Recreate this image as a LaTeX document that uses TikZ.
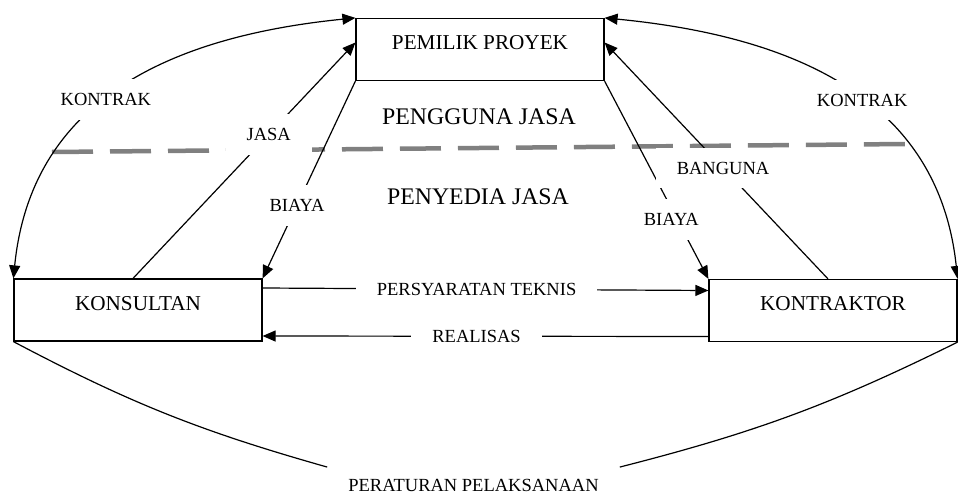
\documentclass[tikz,border=0pt]{standalone}
\usepackage{fontspec}
\setmainfont{Liberation Serif}
\usetikzlibrary{arrows.meta}

\begin{document}
\begin{tikzpicture}[x=1pt, y=-1pt, every text node part/.style={align=center}]

\tikzstyle{box}=[draw, line width=1.2pt, minimum width=248pt, minimum height=62pt, text height=14pt, text depth=14pt, font=\fontsize{21.2}{24}\selectfont]
\tikzstyle{lbl}=[fill=white, inner xsep=21pt, inner ysep=14pt, text height=12.5pt, text depth=0pt, font=\fontsize{18.5}{20}\selectfont]
\tikzstyle{arr}=[draw, line width=1.2pt, -{Triangle[length=13pt, width=11pt]}]
\tikzstyle{darr}=[draw, line width=1.2pt, {Triangle[length=13pt, width=11pt]}-{Triangle[length=13pt, width=11pt]}]
\tikzstyle{side}=[font=\fontsize{23.8}{26}\selectfont]

\useasboundingbox (0, 0) rectangle (958, 495);

% garis batas pengguna / penyedia
\coordinate (batasL) at (52, 152);
\coordinate (batasR) at (906, 144);
\path [draw, gray, line width=4.5pt, dash pattern=on 41pt off 17pt] (batasL) -- (batasR);

\node (pemilik)    [box]  at (480, 49.5)  {PEMILIK PROYEK};
\node (konsultan)  [box]  at (138, 310)   {KONSULTAN};
\node (kontraktor) [box]  at (833, 310.5) {KONTRAKTOR};
\node (pengguna)   [side] at (479, 117)   {PENGGUNA JASA};
\node (penyedia)   [side] at (478, 197)   {PENYEDIA JASA};
\node (peraturan)  [lbl, inner ysep=1pt] at (473.5, 485.5) {PERATURAN PELAKSANAAN};

\path [darr] (pemilik.north west)
    .. controls +(-199, 20) and +(17, -170) ..
    node [lbl, pos=0.53] (kontrak1) {KONTRAK} (konsultan.north west);
\path [darr] (pemilik.north east)
    .. controls +(206, 20) and +(-18, -170) ..
    node [lbl, pos=0.53] (kontrak2) {KONTRAK} (kontraktor.north east);
\path [arr] ([xshift=-5pt]konsultan.north)  -- node [lbl, pos=0.61] (jasa) {JASA} ([yshift=7pt]pemilik.west);
\path [arr] (pemilik.south west) -- node [lbl, pos=0.63] (biaya1) {BIAYA} (konsultan.north east);
\path [arr] (pemilik.south east) -- node [lbl, pos=0.70, xshift=-6pt] (biaya2) {BIAYA} (kontraktor.north west);
\path [arr] ([xshift=-5pt]kontraktor.north) -- node [lbl, pos=0.47] (bangun) {BANGUNA} ([yshift=7pt]pemilik.east);
\path [arr] ([yshift=22pt]konsultan.east)   -- node [lbl, pos=0.48] (syarat) {PERSYARATAN TEKNIS} ([yshift=20pt]kontraktor.west);
\path [arr] ([yshift=-26pt]kontraktor.west) -- node [lbl, pos=0.52] (realisas) {REALISAS} ([yshift=-26pt]konsultan.east);
\path [draw, line width=1.2pt] (konsultan.south west)  to [bend right=6] ([yshift=11pt]peraturan.north west);
\path [draw, line width=1.2pt] (kontraktor.south east) to [bend left=6]  ([yshift=11pt]peraturan.north east);
\end{tikzpicture}
\end{document}
